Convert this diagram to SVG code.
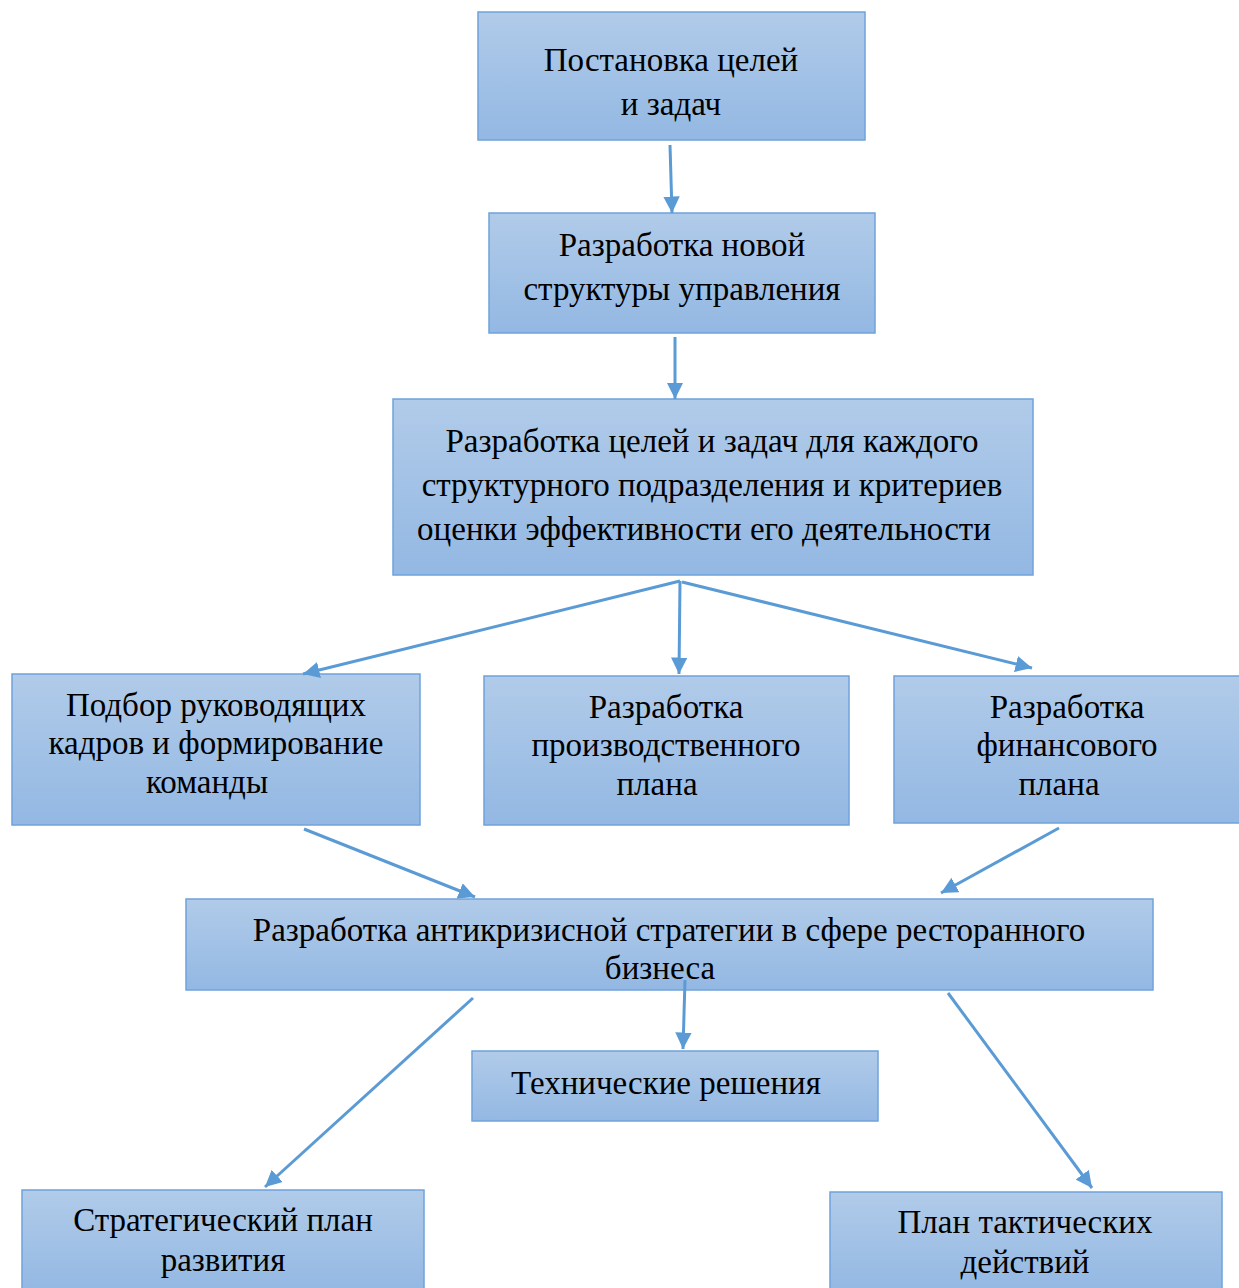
<svg xmlns="http://www.w3.org/2000/svg" width="1239" height="1288" viewBox="0 0 1239 1288">
<defs>
<linearGradient id="g" x1="0" y1="0" x2="0" y2="1">
<stop offset="0" stop-color="#b1cbe9"/>
<stop offset="1" stop-color="#93b8e3"/>
</linearGradient>
<marker id="a" viewBox="0 0 10 10" refX="10" refY="5" markerWidth="5.5" markerHeight="5.5" markerUnits="strokeWidth" orient="auto">
<path d="M0,0 L10,5 L0,10 z" fill="#5b9bd5"/>
</marker>
<style>
.b{fill:url(#g);stroke:#6fa3dc;stroke-width:1.5}
.t{font-family:"Liberation Serif","Times New Roman",serif;font-size:33px;fill:#000;text-anchor:middle}
.c line{stroke:#5b9bd5;stroke-width:3;marker-end:url(#a)}
</style>
</defs>
<rect width="1239" height="1288" fill="#fff"/>
<g id="n1"><rect class="b" x="478" y="12" width="387" height="128"/><text class="t" x="671" y="71">Постановка целей</text><text class="t" x="671" y="115">и задач</text></g>
<g id="n2"><rect class="b" x="489" y="213" width="386" height="120"/><text class="t" x="682" y="256">Разработка новой</text><text class="t" x="682" y="300">структуры управления</text></g>
<g id="n3"><rect class="b" x="393" y="399" width="640" height="176"/><text class="t" x="712" y="452">Разработка целей и задач для каждого</text><text class="t" x="712" y="496">структурного подразделения и критериев</text><text class="t" x="704" y="540">оценки эффективности его деятельности</text></g>
<g id="n4"><rect class="b" x="12" y="674" width="408" height="151"/><text class="t" x="216" y="716">Подбор руководящих</text><text class="t" x="216" y="754">кадров и формирование</text><text class="t" x="207" y="793">команды</text></g>
<g id="n5"><rect class="b" x="484" y="676" width="365" height="149"/><text class="t" x="666" y="718">Разработка</text><text class="t" x="666" y="756">производственного</text><text class="t" x="657" y="795">плана</text></g>
<g id="n6"><rect class="b" x="894" y="676" width="350" height="147"/><text class="t" x="1067" y="718">Разработка</text><text class="t" x="1067" y="756">финансового</text><text class="t" x="1059" y="795">плана</text></g>
<g id="n7"><rect class="b" x="186" y="899" width="967" height="91"/><text class="t" x="669" y="941">Разработка антикризисной стратегии в сфере ресторанного</text><text class="t" x="660" y="979">бизнеса</text></g>
<g id="n8"><rect class="b" x="472" y="1051" width="406" height="70"/><text class="t" x="666" y="1094">Технические решения</text></g>
<g id="n9"><rect class="b" x="22" y="1190" width="402" height="102"/><text class="t" x="223" y="1231">Стратегический план</text><text class="t" x="223" y="1271">развития</text></g>
<g id="n10"><rect class="b" x="830" y="1192" width="392" height="100"/><text class="t" x="1025" y="1233">План тактических</text><text class="t" x="1025" y="1273">действий</text></g>
<g class="c" id="connectors">
<line x1="670" y1="145" x2="672" y2="213"/>
<line x1="675" y1="337" x2="675" y2="399"/>
<line x1="680" y1="581" x2="303" y2="674"/>
<line x1="680" y1="581" x2="679" y2="674"/>
<line x1="682" y1="582" x2="1032" y2="668"/>
<line x1="304" y1="829" x2="475" y2="897"/>
<line x1="1059" y1="828" x2="941" y2="893"/>
<line x1="473" y1="998" x2="265" y2="1187"/>
<line x1="685" y1="980" x2="683" y2="1049"/>
<line x1="948" y1="993" x2="1092" y2="1188"/>
</g>
</svg>
